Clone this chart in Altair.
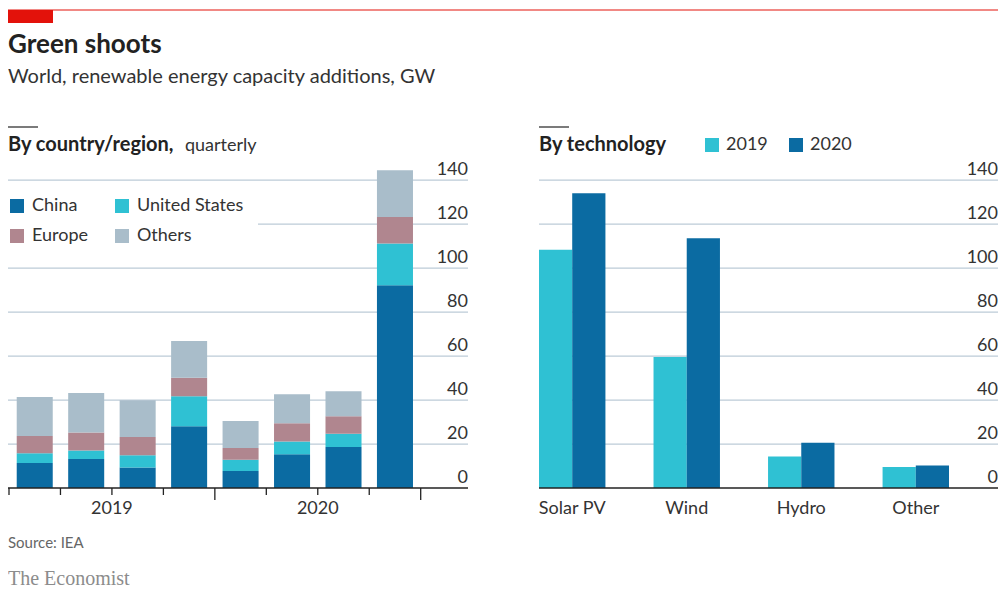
import altair as alt
import pandas as pd

# ---------------- data ----------------
quarters = ["2019 Q1", "2019 Q2", "2019 Q3", "2019 Q4",
            "2020 Q1", "2020 Q2", "2020 Q3", "2020 Q4"]
regions = ["China", "United States", "Europe", "Others"]
china = [11.4, 13.2, 9.3, 28.1, 7.7, 15.3, 18.7, 92.2]
united_states = [4.4, 3.9, 5.6, 13.6, 5.2, 5.9, 6.0, 19.0]
europe = [7.9, 8.1, 8.3, 8.5, 5.3, 8.2, 7.9, 12.1]
others = [17.7, 18.0, 16.7, 16.7, 12.3, 13.2, 11.4, 21.2]

techs = ["Solar PV", "Wind", "Hydro", "Other"]
years = ["2019", "2020"]
cap_2019 = [108.4, 59.6, 14.3, 9.6]
cap_2020 = [134.1, 113.6, 20.6, 10.2]

y_ticks = [0, 20, 40, 60, 80, 100, 120, 140]

# ---------------- style ----------------
FONT = "Lato"
TXT = "#333333"
GRID = "#bccbd7"
RED = "#e3120b"
region_colors = ["#0b6ba2", "#2fc1d3", "#b0868f", "#a9bdca"]
year_colors = ["#2fc1d3", "#0b6ba2"]

H = 321
W = 990
LEFT_W = 460
RIGHT_X0 = 531

rows = []
for i, q in enumerate(quarters):
    for j, (r, vals) in enumerate(zip(regions, [china, united_states, europe, others])):
        rows.append({"quarter": q, "region": r, "ord": j, "gw": vals[i]})
df_region = pd.DataFrame(rows)

rows = []
for i, t in enumerate(techs):
    rows.append({"tech": t, "year": "2019", "gw": cap_2019[i]})
    rows.append({"tech": t, "year": "2020", "gw": cap_2020[i]})
df_tech = pd.DataFrame(rows)

df_grid = pd.DataFrame({"v": [v for v in y_ticks if v > 0]})
df_lab = pd.DataFrame({"v": y_ticks})
df_zero = pd.DataFrame({"v": [0]})
df_q = pd.DataFrame({"quarter": quarters})
one = pd.DataFrame({"k": [0]})

y_scale = alt.Scale(domain=[0, 146], nice=False)


def qscale():
    return alt.Scale(domain=quarters, range=[1, 412.7], paddingInner=0.3, paddingOuter=0.15)


step = (412.7 - 1) / 8.0
edge = 0.15 * step

left_bars = alt.Chart(df_region).mark_bar().encode(
    x=alt.X("quarter:N", scale=qscale(),
            axis=alt.Axis(orient="bottom", title=None, ticks=False, domain=False, grid=False,
                          labelAngle=0, labelFont=FONT, labelFontSize=18, labelColor=TXT,
                          labelPadding=11, labelOffset=step / 2, labelOverlap=False,
                          labelExpr="datum.value == '2019 Q2' ? '2019' : (datum.value == '2020 Q2' ? '2020' : '')")),
    y=alt.Y("gw:Q", stack="zero", scale=y_scale, axis=None),
    color=alt.Color("region:N", scale=alt.Scale(domain=regions, range=region_colors),
                    legend=alt.Legend(orient="none", legendX=-14, legendY=16, columns=2,
                                      direction="horizontal",
                                      title=None, symbolType="square", symbolSize=196,
                                      symbolStrokeWidth=0, symbolOpacity=1,
                                      labelFont=FONT, labelFontSize=18, labelColor=TXT,
                                      labelOffset=6, columnPadding=24, rowPadding=12,
                                      fillColor="white", padding=14)),
    order=alt.Order("ord:Q", sort="ascending"),
)

right_bars = alt.Chart(df_tech).mark_bar().encode(
    x=alt.X("tech:N", scale=alt.Scale(domain=techs, range=[RIGHT_X0, 941], paddingInner=0.42, paddingOuter=0),
            axis=alt.Axis(orient="bottom", title=None, ticks=False, domain=False, grid=False,
                          labelAngle=0, labelFont=FONT, labelFontSize=18, labelColor=TXT,
                          labelPadding=11)),
    xOffset=alt.XOffset("year:N", scale=alt.Scale(domain=years, paddingInner=0, paddingOuter=0)),
    y=alt.Y("gw:Q", scale=y_scale, axis=None),
    color=alt.Color("year:N", scale=alt.Scale(domain=years, range=year_colors),
                    legend=alt.Legend(orient="none", legendX=695, legendY=-31, direction="horizontal",
                                      title=None, symbolType="square", symbolSize=196,
                                      symbolStrokeWidth=0, symbolOpacity=1,
                                      labelFont=FONT, labelFontSize=18, labelColor=TXT,
                                      labelOffset=5, columnPadding=19, padding=0)),
)

grid_left = alt.Chart(df_grid).mark_rule(color=GRID, strokeWidth=1.3).encode(
    y=alt.Y("v:Q", scale=y_scale, axis=None), x=alt.value(0), x2=alt.value(LEFT_W))
grid_right = alt.Chart(df_grid).mark_rule(color=GRID, strokeWidth=1.3).encode(
    y=alt.Y("v:Q", scale=y_scale, axis=None), x=alt.value(RIGHT_X0), x2=alt.value(W))

base_left = alt.Chart(df_zero).mark_rule(color="#222222", strokeWidth=1.5).encode(
    y=alt.Y("v:Q", scale=y_scale, axis=None), x=alt.value(0), x2=alt.value(LEFT_W))
base_right = alt.Chart(df_zero).mark_rule(color="#222222", strokeWidth=1.5).encode(
    y=alt.Y("v:Q", scale=y_scale, axis=None), x=alt.value(RIGHT_X0), x2=alt.value(W))

ylab_left = alt.Chart(df_lab).mark_text(align="right", baseline="alphabetic", dy=-5,
                                        font=FONT, fontSize=18, color=TXT).encode(
    y=alt.Y("v:Q", scale=y_scale, axis=None), x=alt.value(LEFT_W), text="v:Q")
ylab_right = alt.Chart(df_lab).mark_text(align="right", baseline="alphabetic", dy=-5,
                                         font=FONT, fontSize=18, color=TXT).encode(
    y=alt.Y("v:Q", scale=y_scale, axis=None), x=alt.value(W), text="v:Q")

ticks_short = alt.Chart(df_q).transform_filter("datum.quarter != '2020 Q1'").mark_rule(
    color="#222222", strokeWidth=1.3, xOffset=-edge).encode(
    x=alt.X("quarter:N", scale=qscale(), bandPosition=0, axis=None),
    y=alt.value(H), y2=alt.value(H + 7))
ticks_long = alt.Chart(df_q).transform_filter("datum.quarter == '2020 Q1'").mark_rule(
    color="#222222", strokeWidth=1.3, xOffset=-edge).encode(
    x=alt.X("quarter:N", scale=qscale(), bandPosition=0, axis=None),
    y=alt.value(H), y2=alt.value(H + 12))
ticks_end = alt.Chart(df_q).transform_filter("datum.quarter == '2020 Q4'").mark_rule(
    color="#222222", strokeWidth=1.3, xOffset=edge).encode(
    x=alt.X("quarter:N", scale=qscale(), bandPosition=1, axis=None),
    y=alt.value(H), y2=alt.value(H + 12))


def txt(text, x, y, size, weight="normal", color=TXT, font=FONT):
    return alt.Chart(one).mark_text(text=text, align="left", baseline="alphabetic",
                                    fontSize=size, fontWeight=weight, color=color,
                                    font=font).encode(x=alt.value(x), y=alt.value(y))


red_line = alt.Chart(one).mark_rule(color=RED, strokeWidth=1).encode(
    x=alt.value(0), x2=alt.value(W), y=alt.value(-157))
red_rect = alt.Chart(one).mark_rect(color=RED).encode(
    x=alt.value(0), x2=alt.value(45), y=alt.value(-157), y2=alt.value(-144))
dash_left = alt.Chart(one).mark_rule(color="#222222", strokeWidth=1.2).encode(
    x=alt.value(0), x2=alt.value(30), y=alt.value(-40))
dash_right = alt.Chart(one).mark_rule(color="#222222", strokeWidth=1.2).encode(
    x=alt.value(RIGHT_X0), x2=alt.value(RIGHT_X0 + 30), y=alt.value(-40))

texts = [
    txt("Green shoots", 0, -114, 26, "bold", "#222222"),
    txt("World, renewable energy capacity additions, GW", 0, -84, 20),
    txt("By country/region,", 0, -16.5, 20, "bold", "#222222"),
    txt("quarterly", 177, -16.5, 18),
    txt("By technology", RIGHT_X0, -16.5, 20, "bold", "#222222"),
    txt("Source: IEA", 0, 381, 15, color="#666666"),
    txt("The Economist", 0, 418, 20, color="#8c8c8c", font="Liberation Serif"),
]

chart = alt.layer(
    grid_left, grid_right, left_bars, right_bars, base_left, base_right,
    ylab_left, ylab_right, ticks_short, ticks_long, ticks_end,
    red_line, red_rect, dash_left, dash_right, *texts
).resolve_scale(
    x="independent", color="independent"
).properties(
    width=W, height=H,
    padding={"left": 0, "top": 159, "right": 0, "bottom": 102},
    autosize=alt.AutoSizeParams(type="none"),
    background="white",
).configure_view(stroke=None)

chart.save("out.html", embed_options={"renderer": "svg", "actions": False})
